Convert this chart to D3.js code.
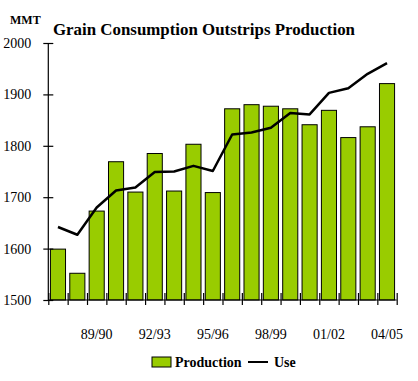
<!DOCTYPE html>
<html>
<head>
	<meta charset="utf-8" />
	<title>Grain Consumption Outstrips Production</title>
	<script src="https://d3js.org/d3.v7.min.js"></script>
	<style>
		body, html { margin: 0; background: #fff; }
		svg { font-family: "Liberation Serif", "Times New Roman", serif; }
	</style>
</head>
<body>
	<svg id="chart" width="418" height="381"></svg>
	<script>
		// marketing years 87/88 .. 04/05
		var years = ["87/88", "88/89", "89/90", "90/91", "91/92", "92/93", "93/94", "94/95", "95/96",
			"96/97", "97/98", "98/99", "99/00", "00/01", "01/02", "02/03", "03/04", "04/05"];
		var production = [1599, 1552, 1673, 1769, 1710, 1785, 1712, 1803, 1709,
			1872, 1880, 1877, 1872, 1841, 1869, 1816, 1837, 1921];
		var use = [1642, 1627, 1680, 1713, 1719, 1749, 1750, 1761, 1751,
			1822, 1826, 1835, 1864, 1861, 1903, 1912, 1940, 1961];
		var yTicks = [1500, 1600, 1700, 1800, 1900, 2000];
		var shownLabels = ["89/90", "92/93", "95/96", "98/99", "01/02", "04/05"];

		var svg = d3.select("#chart");
		var plotLeft = 48.3, plotRight = 396.7, plotTop = 43, plotBottom = 300;

		var x = d3.scaleBand().domain(years).range([plotLeft, plotRight]).paddingInner(0).paddingOuter(0);
		var xi = d3.scaleLinear().domain([0, years.length]).range([plotLeft, plotRight]);
		var y = d3.scaleLinear().domain([1500, 2000]).range([plotBottom, plotTop]);

		// bars
		var bw = x.bandwidth() * 0.78;
		svg.append("g").selectAll("rect")
			.data(production)
			.enter().append("rect")
			.attr("x", function(d, i) { return x(years[i]) + (x.bandwidth() - bw) / 2; })
			.attr("y", function(d) { return y(d); })
			.attr("width", bw)
			.attr("height", function(d) { return y(1500) - y(d); })
			.attr("fill", "#99cc00")
			.attr("stroke", "#000")
			.attr("stroke-width", 1);

		// y axis
		var yAxis = svg.append("g")
			.attr("transform", "translate(" + plotLeft + ",0)")
			.call(d3.axisLeft(y).tickValues(yTicks).tickSize(5).tickPadding(12).tickFormat(d3.format("d")));
		yAxis.selectAll(".tick line").attr("x2", 5).attr("x1", -5);
		yAxis.select(".domain").attr("d", "M0," + plotTop + "V" + plotBottom);
		yAxis.selectAll("text").attr("font-size", 14).attr("fill", "#000")
			.attr("font-family", "Liberation Serif, serif");

		// x axis (ticks on category boundaries)
		var xAxis = svg.append("g")
			.attr("transform", "translate(0," + plotBottom + ")")
			.call(d3.axisBottom(xi).tickValues(d3.range(years.length + 1)).tickSize(5).tickFormat(""));
		xAxis.selectAll(".tick line").attr("y1", -7).attr("y2", 5);
		xAxis.select(".domain").attr("d", "M" + plotLeft + ",0H" + plotRight);

		svg.selectAll(".domain, .tick line").attr("stroke", "#000").attr("stroke-width", 1.2);

		// x labels
		svg.append("g").selectAll("text")
			.data(shownLabels)
			.enter().append("text")
			.attr("x", function(d) { return x(d) + x.bandwidth() / 2; })
			.attr("y", 339)
			.attr("text-anchor", "middle")
			.attr("font-size", 14)
			.text(function(d) { return d; });

		// use line
		var line = d3.line()
			.x(function(d, i) { return x(years[i]) + x.bandwidth() / 2; })
			.y(function(d) { return y(d); });
		svg.append("path")
			.datum(use)
			.attr("d", line)
			.attr("fill", "none")
			.attr("stroke", "#000")
			.attr("stroke-width", 2.5)
			.attr("stroke-linejoin", "round");

		// titles
		svg.append("text")
			.attr("x", 53).attr("y", 35)
			.attr("font-size", 17).attr("font-weight", "bold")
			.attr("textLength", 302).attr("lengthAdjust", "spacingAndGlyphs")
			.text("Grain Consumption Outstrips Production");
		svg.append("text")
			.attr("x", 10).attr("y", 24)
			.attr("font-size", 12).attr("font-weight", "bold")
			.text("MMT");

		// legend
		var lg = svg.append("g");
		lg.append("rect").attr("x", 152).attr("y", 357).attr("width", 19).attr("height", 10)
			.attr("fill", "#99cc00").attr("stroke", "#000");
		lg.append("text").attr("x", 175).attr("y", 367).attr("font-size", 14).attr("font-weight", "bold")
			.text("Production");
		lg.append("line").attr("x1", 248).attr("x2", 268).attr("y1", 362).attr("y2", 362)
			.attr("stroke", "#000").attr("stroke-width", 2);
		lg.append("text").attr("x", 274).attr("y", 367).attr("font-size", 14).attr("font-weight", "bold")
			.text("Use");
	</script>
</body>
</html>
